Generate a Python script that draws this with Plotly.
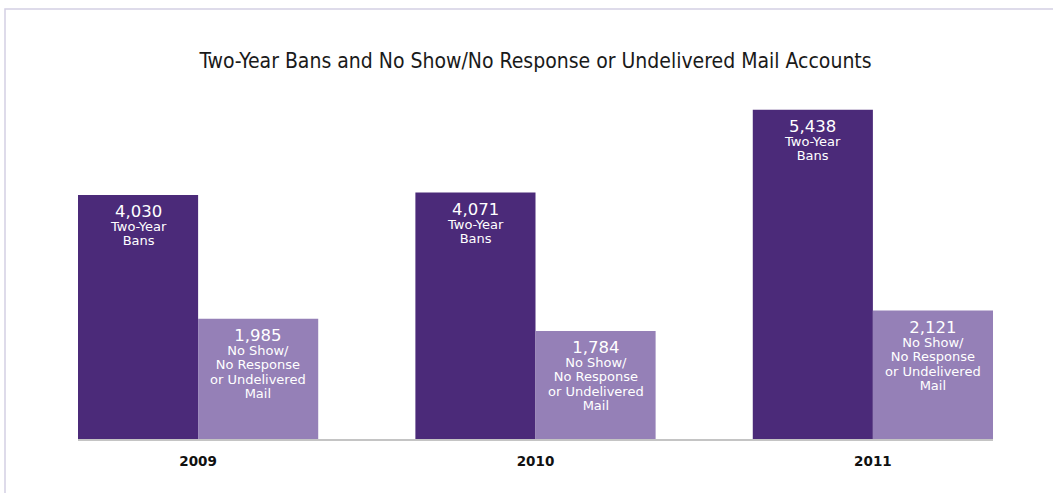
import plotly.graph_objects as go

years = ["2009", "2010", "2011"]
bans = [4030, 4071, 5438]
noshow = [1985, 1784, 2121]
ban_lines = ["Two-Year", "Bans"]
noshow_lines = ["No Show/", "No Response", "or Undelivered", "Mail"]
title = "Two-Year Bans and No Show/No Response or Undelivered Mail Accounts"

dark = "#4b2a79"
light = "#9580b7"

VAL_STYLE = "font-size:16.5px"
LAB_STYLE = "font-size:13px"


def bar_text(v, lines):
    parts = [f"<span style='{VAL_STYLE}'>{v:,}</span>"]
    parts += [f"<span style='{LAB_STYLE}'>{ln}</span>" for ln in lines]
    return "<br>".join(parts)


fig = go.Figure()
fig.add_trace(go.Bar(x=years, y=bans, marker=dict(color=dark, line=dict(width=0)),
                     hoverinfo="skip", cliponaxis=False))
fig.add_trace(go.Bar(x=years, y=noshow, marker=dict(color=light, line=dict(width=0)),
                     hoverinfo="skip", cliponaxis=False))

annotations = []
for series, lines, shift in ((bans, ban_lines, -60), (noshow, noshow_lines, 60)):
    for idx, v in enumerate(series):
        annotations.append(dict(
            x=idx, y=v, xref="x", yref="y", xshift=shift, yshift=-5,
            xanchor="center", yanchor="top", showarrow=False,
            text=bar_text(v, lines), align="center",
            font=dict(family="DejaVu Sans, Verdana", size=10.9, color="white"),
        ))

fig.update_layout(
    width=1053, height=493,
    margin=dict(l=78, r=60, t=100, b=54),
    paper_bgcolor="white", plot_bgcolor="white",
    barmode="group", bargap=0.288, bargroupgap=0,
    showlegend=False,
    annotations=annotations,
    title=dict(text=title, x=0.5, xref="paper", y=1 - 61 / 493, yref="container",
               xanchor="center", yanchor="middle",
               font=dict(family="DejaVu Sans Condensed, DejaVu Sans", size=21, color="#1a1a1a")),
    xaxis=dict(type="category", range=[-0.356, 2.356], showline=True, linecolor="#c4c4c4",
               linewidth=2, ticks="", showgrid=False, zeroline=False, ticklabelstandoff=9,
               tickfont=dict(family="DejaVu Sans, Verdana", size=13.5, color="#111111", weight="bold")),
    yaxis=dict(range=[0, 5600], visible=False, showgrid=False, zeroline=False),
    shapes=[dict(type="rect", xref="paper", yref="paper",
                 x0=(5 - 78) / 915, x1=1.3, y0=-0.5, y1=(439 - 9) / 339,
                 line=dict(color="#d4d0e4", width=1.5), fillcolor="rgba(0,0,0,0)", layer="below")],
)

fig.write_html("out.html", config={"displayModeBar": False},
               post_script="document.body.style.margin='0';")
